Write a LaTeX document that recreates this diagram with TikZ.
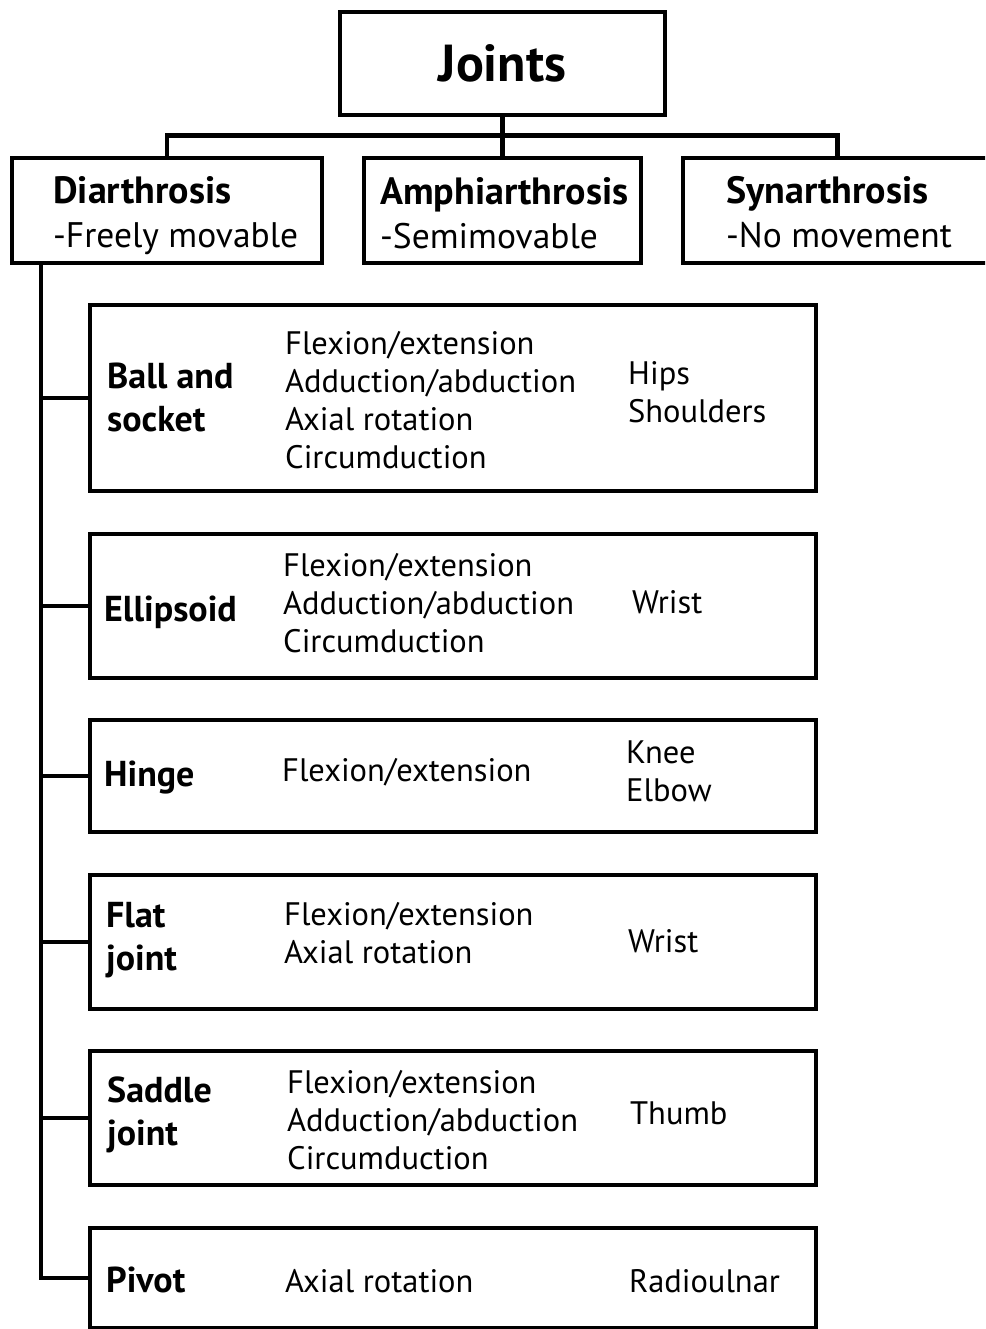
\documentclass[tikz,border=0pt]{standalone}
\usepackage{fontspec}
\setmainfont{PT Sans}
\begin{document}
\begin{tikzpicture}[x=1pt,y=-1pt]
\tikzset{
  box/.style={draw, line width=4.5pt, inner sep=0pt, rectangle},
  conn/.style={draw, line width=4.5pt},
  toptxt/.style={anchor=west, inner sep=0pt, align=left, font=\fontsize{35.5}{44}\selectfont},
  lbl/.style={anchor=west, inner sep=0pt, align=left, font=\fontsize{36}{43}\selectfont\bfseries},
  txt/.style={anchor=west, inner sep=0pt, align=left, font=\fontsize{32.5}{38}\selectfont},
}
\newcommand{\topbf}[1]{{\fontsize{38}{44}\selectfont\bfseries #1}}
\useasboundingbox (0,0) rectangle (985,1329);
\clip (0,0) rectangle (985,1329);
% top
\node[box, minimum width=325pt, minimum height=103pt, font=\fontsize{52}{60}\selectfont\bfseries] (joints) at (502.5,63.5) {Joints};
\node[box, minimum width=310pt, minimum height=105pt] (diar) at (167,210.5) {};
\node[box, minimum width=277pt, minimum height=105pt] (amph) at (502.5,210.5) {};
\node[box, minimum width=309pt, minimum height=105pt] (syn) at (837.5,210.5) {};
\node[toptxt] (diart) at (53,216) {\topbf{Diarthrosis}\\-Freely movable};
\node[toptxt] (ampht) at (380,213) {\topbf{Amphiarthrosis}\\-Semimovable};
\node[toptxt] (synt) at (726,212) {\topbf{Synarthrosis}\\-No movement};
\draw[conn] (joints.south) -- (amph.north);
\draw[conn] (diar.north) -- ++(0,-20) -| (syn.north);
% rows
\node[box, minimum width=726pt, minimum height=186pt] (ball) at (453,398) {};
\node[box, minimum width=726pt, minimum height=144pt] (ell) at (453,606) {};
\node[box, minimum width=726pt, minimum height=112pt] (hinge) at (453,776) {};
\node[box, minimum width=726pt, minimum height=134pt] (flat) at (453,942) {};
\node[box, minimum width=726pt, minimum height=134pt] (saddle) at (453,1118) {};
\node[box, minimum width=726pt, minimum height=100pt] (pivot) at (453,1278) {};
% row texts
\node[lbl] (ballL) at (107,397) {Ball and\\socket};
\node[txt] (ballM) at (285,400) {Flexion/extension\\Adduction/abduction\\Axial rotation\\Circumduction};
\node[txt] (ballR) at (628,392) {Hips\\Shoulders};
\node[lbl] (ellL) at (104,612) {Ellipsoid};
\node[txt] (ellM) at (283,603) {Flexion/extension\\Adduction/abduction\\Circumduction};
\node[txt] (ellR) at (632,602) {Wrist};
\node[lbl] (hingeL) at (104,778) {Hinge};
\node[txt] (hingeM) at (282,772) {Flexion/extension};
\node[txt] (hingeR) at (626,771) {Knee\\Elbow};
\node[lbl] (flatL) at (106,940) {Flat\\joint};
\node[txt] (flatM) at (284,933) {Flexion/extension\\Axial rotation};
\node[txt] (flatR) at (628,941) {Wrist};
\node[lbl] (saddleL) at (107,1115) {Saddle\\joint};
\node[txt] (saddleM) at (287,1120) {Flexion/extension\\Adduction/abduction\\Circumduction};
\node[txt] (saddleR) at (630,1113) {Thumb};
\node[lbl] (pivotL) at (106,1280) {Pivot};
\node[txt] (pivotM) at (285,1281) {Axial rotation};
\node[txt] (pivotR) at (629,1281) {Radioulnar};
% tree
\draw[conn] ([xshift=31pt]diar.south west) |- (pivot.west);
\foreach \n in {ball,ell,hinge,flat,saddle}{
  \draw[conn] (\n.west) -- ++(-49,0);
}
\end{tikzpicture}
\end{document}
